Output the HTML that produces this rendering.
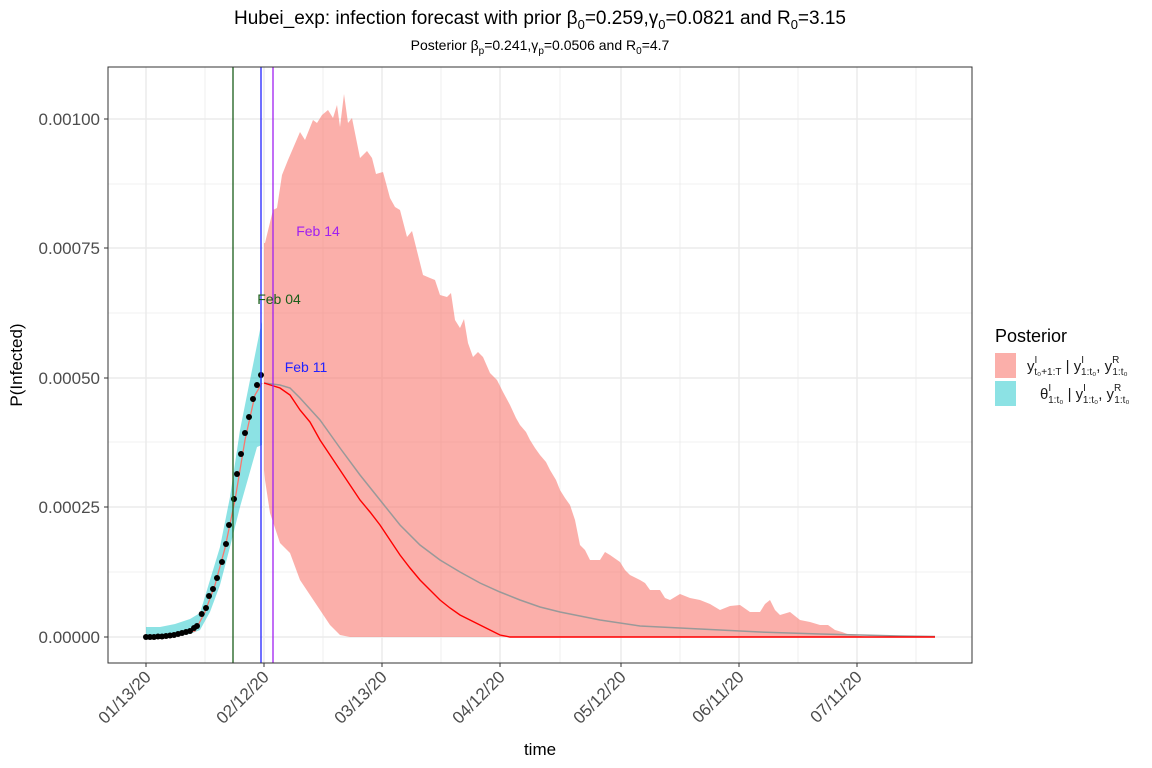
<!DOCTYPE html>
<html><head><meta charset="utf-8"><style>
html,body{margin:0;padding:0;background:#fff;}
svg{display:block;font-family:"Liberation Sans",Arial,sans-serif;}
</style></head><body>
<svg width="1152" height="768" viewBox="0 0 1152 768" xmlns="http://www.w3.org/2000/svg">
<rect width="1152" height="768" fill="#fff"/>
<text x="540" y="24" font-size="19" text-anchor="middle">Hubei_exp: infection forecast with prior β<tspan font-size="13" dy="5">0</tspan><tspan dy="-5">=0.259,γ</tspan><tspan font-size="13" dy="5">0</tspan><tspan dy="-5">=0.0821 and R</tspan><tspan font-size="13" dy="5">0</tspan><tspan dy="-5">=3.15</tspan></text>
<text x="540" y="50" font-size="14" text-anchor="middle">Posterior β<tspan font-size="10" dy="4">p</tspan><tspan dy="-4">=0.241,γ</tspan><tspan font-size="10" dy="4">p</tspan><tspan dy="-4">=0.0506 and R</tspan><tspan font-size="10" dy="4">0</tspan><tspan dy="-4">=4.7</tspan></text>
<g stroke="#ebebeb" stroke-width="0.8">
<line x1="108" x2="972" y1="572" y2="572"/><line x1="108" x2="972" y1="442" y2="442"/><line x1="108" x2="972" y1="313" y2="313"/><line x1="108" x2="972" y1="184" y2="184"/>
<line y1="67" y2="663" x1="205" x2="205"/><line y1="67" y2="663" x1="323" x2="323"/><line y1="67" y2="663" x1="441" x2="441"/><line y1="67" y2="663" x1="560" x2="560"/><line y1="67" y2="663" x1="680" x2="680"/><line y1="67" y2="663" x1="798" x2="798"/><line y1="67" y2="663" x1="916" x2="916"/>
</g>
<g stroke="#ebebeb" stroke-width="1.5">
<line x1="108" x2="972" y1="637" y2="637"/><line x1="108" x2="972" y1="507" y2="507"/><line x1="108" x2="972" y1="378" y2="378"/><line x1="108" x2="972" y1="248" y2="248"/><line x1="108" x2="972" y1="119" y2="119"/>
<line y1="67" y2="663" x1="146" x2="146"/><line y1="67" y2="663" x1="264" x2="264"/><line y1="67" y2="663" x1="382" x2="382"/><line y1="67" y2="663" x1="500" x2="500"/><line y1="67" y2="663" x1="621" x2="621"/><line y1="67" y2="663" x1="739" x2="739"/><line y1="67" y2="663" x1="857" x2="857"/>
</g>
<polygon fill="#00BFC4" fill-opacity="0.45" points="146,627 160,627 175,624 190,619 200,613 210,580 220,547 230,497 240,430 250,380 260,330 262,322 262,445 257,447 240,507 230,547 220,585 210,612 200,630 190,634 175,636 160,637 146,637"/>
<polygon fill="#F8766D" fill-opacity="0.58" points="264,243 265,243 273,210 277,208 282,175 288,160 300,132 305,140 313,120 317,123 322,115 328,110 333,118 337,105 340,127 344,94 348,123 352,118 357,143 360,158 367,151 372,158 376,174 383,172 390,198 395,207 400,210 407,237 412,231 423,275 430,278 435,280 440,295 447,297 451,293 455,320 460,328 464,319 468,343 473,357 478,352 483,357 490,373 497,380 503,392 510,405 516,418 520,425 526,432 530,440 535,448 540,455 546,462 550,470 556,480 560,490 565,498 570,505 575,520 580,545 585,550 590,560 600,560 605,552 610,555 620,562 625,570 630,575 640,580 645,583 650,590 660,590 665,598 670,600 680,594 690,598 700,600 710,604 720,610 730,606 740,605 750,612 760,612 765,604 770,600 775,610 780,615 790,612 800,620 810,622 820,625 828,625 835,630 842,632 850,635 860,636 870,637 935,637 350,637 340,635 330,625 320,610 310,595 300,580 290,553 280,543 270,513 265,480 264,470"/>
<polyline fill="none" stroke="#F8766D" stroke-width="1.3" points="146,637 175,635 195,631 205,612 215,585 225,548 235,500 245,440 255,395 262,383"/>
<polyline fill="none" stroke="#999" stroke-width="1.5" points="264,383 280,385 290,388 300,398 320,420 340,448 360,475 380,500 400,525 420,545 440,560 460,572 480,583 500,592 520,600 540,607 560,612 600,620 640,626 700,629 760,632 820,634 900,636 935,636.5"/>
<polyline fill="none" stroke="#ff0000" stroke-width="1.4" points="264,383 280,388 290,395 300,410 310,422 320,440 330,455 340,470 350,485 360,500 370,512 380,525 390,540 400,555 410,568 420,580 430,590 440,600 450,608 460,615 470,620 480,625 490,630 500,635 510,637 935,637"/>
<g fill="#000">
<circle cx="146" cy="637" r="3"/><circle cx="150" cy="637" r="3"/><circle cx="154" cy="637" r="3"/><circle cx="158" cy="636.5" r="3"/><circle cx="162" cy="636.5" r="3"/><circle cx="166" cy="636" r="3"/><circle cx="170" cy="635.5" r="3"/><circle cx="174" cy="635" r="3"/><circle cx="178" cy="634" r="3"/><circle cx="182" cy="633" r="3"/><circle cx="186" cy="632" r="3"/><circle cx="190" cy="631" r="3"/><circle cx="194" cy="628" r="3"/><circle cx="197" cy="626" r="3"/><circle cx="201.7" cy="614" r="3"/><circle cx="206" cy="608" r="3"/><circle cx="209" cy="596" r="3"/><circle cx="213" cy="589" r="3"/><circle cx="217" cy="578" r="3"/><circle cx="222" cy="562" r="3"/><circle cx="226" cy="544" r="3"/><circle cx="229" cy="525" r="3"/><circle cx="234" cy="499" r="3"/><circle cx="237" cy="474" r="3"/><circle cx="241" cy="454" r="3"/><circle cx="245" cy="433" r="3"/><circle cx="249" cy="417" r="3"/><circle cx="253" cy="399" r="3"/><circle cx="257" cy="385" r="3"/><circle cx="261" cy="375" r="3"/>
</g>
<line x1="233" x2="233" y1="67" y2="663" stroke="#1a5e1a" stroke-width="1.3"/>
<line x1="261" x2="261" y1="67" y2="663" stroke="#2222ff" stroke-width="1.3"/>
<line x1="273" x2="273" y1="67" y2="663" stroke="#a020f0" stroke-width="1.3"/>
<text x="279" y="304" font-size="14" fill="#1a5e1a" text-anchor="middle">Feb 04</text>
<text x="306" y="372" font-size="14" fill="#2222ff" text-anchor="middle">Feb 11</text>
<text x="318" y="236" font-size="14" fill="#a020f0" text-anchor="middle">Feb 14</text>
<rect x="108" y="67" width="864" height="596" fill="none" stroke="#333" stroke-width="1"/>
<g stroke="#333" stroke-width="1">
<line x1="104" x2="108" y1="637" y2="637"/><line x1="104" x2="108" y1="507" y2="507"/><line x1="104" x2="108" y1="378" y2="378"/><line x1="104" x2="108" y1="248" y2="248"/><line x1="104" x2="108" y1="119" y2="119"/>
<line x1="146" x2="146" y1="663" y2="667"/><line x1="264" x2="264" y1="663" y2="667"/><line x1="382" x2="382" y1="663" y2="667"/><line x1="500" x2="500" y1="663" y2="667"/><line x1="621" x2="621" y1="663" y2="667"/><line x1="739" x2="739" y1="663" y2="667"/><line x1="857" x2="857" y1="663" y2="667"/>
</g>
<g font-size="17" fill="#4d4d4d" text-anchor="end">
<text x="100" y="643">0.00000</text><text x="100" y="513">0.00025</text><text x="100" y="384">0.00050</text><text x="100" y="254">0.00075</text><text x="100" y="125">0.00100</text>
</g>
<g font-size="17" fill="#4d4d4d" text-anchor="end">
<text transform="translate(152,678) rotate(-45)">01/13/20</text>
<text transform="translate(270,678) rotate(-45)">02/12/20</text>
<text transform="translate(388,678) rotate(-45)">03/13/20</text>
<text transform="translate(506,678) rotate(-45)">04/12/20</text>
<text transform="translate(627,678) rotate(-45)">05/12/20</text>
<text transform="translate(745,678) rotate(-45)">06/11/20</text>
<text transform="translate(863,678) rotate(-45)">07/11/20</text>
</g>
<text x="540" y="755" font-size="17" text-anchor="middle">time</text>
<text transform="translate(22,365) rotate(-90)" font-size="17" text-anchor="middle">P(Infected)</text>
<text x="995" y="342" font-size="18">Posterior</text>
<rect x="995" y="353" width="21" height="25" fill="#F8766D" fill-opacity="0.58"/>
<rect x="995" y="381" width="21" height="25" fill="#00BFC4" fill-opacity="0.45"/>
<g font-size="15" fill="#1a1a1a">
<text x="1027" y="371">y<tspan font-size="10" dy="-8">I</tspan><tspan font-size="10" dx="-3" dy="12">t₀+1:T</tspan><tspan dy="-4"> | y</tspan><tspan font-size="10" dy="-8">I</tspan><tspan font-size="10" dx="-3" dy="12">1:t₀</tspan><tspan dy="-4">, y</tspan><tspan font-size="10" dy="-8">R</tspan><tspan font-size="10" dx="-7" dy="12">1:t₀</tspan></text>
<text x="1040" y="399">θ<tspan font-size="10" dy="-8">I</tspan><tspan font-size="10" dx="-3" dy="12">1:t₀</tspan><tspan dy="-4"> | y</tspan><tspan font-size="10" dy="-8">I</tspan><tspan font-size="10" dx="-3" dy="12">1:t₀</tspan><tspan dy="-4">, y</tspan><tspan font-size="10" dy="-8">R</tspan><tspan font-size="10" dx="-7" dy="12">1:t₀</tspan></text>
</g>
</svg>
</body></html>
